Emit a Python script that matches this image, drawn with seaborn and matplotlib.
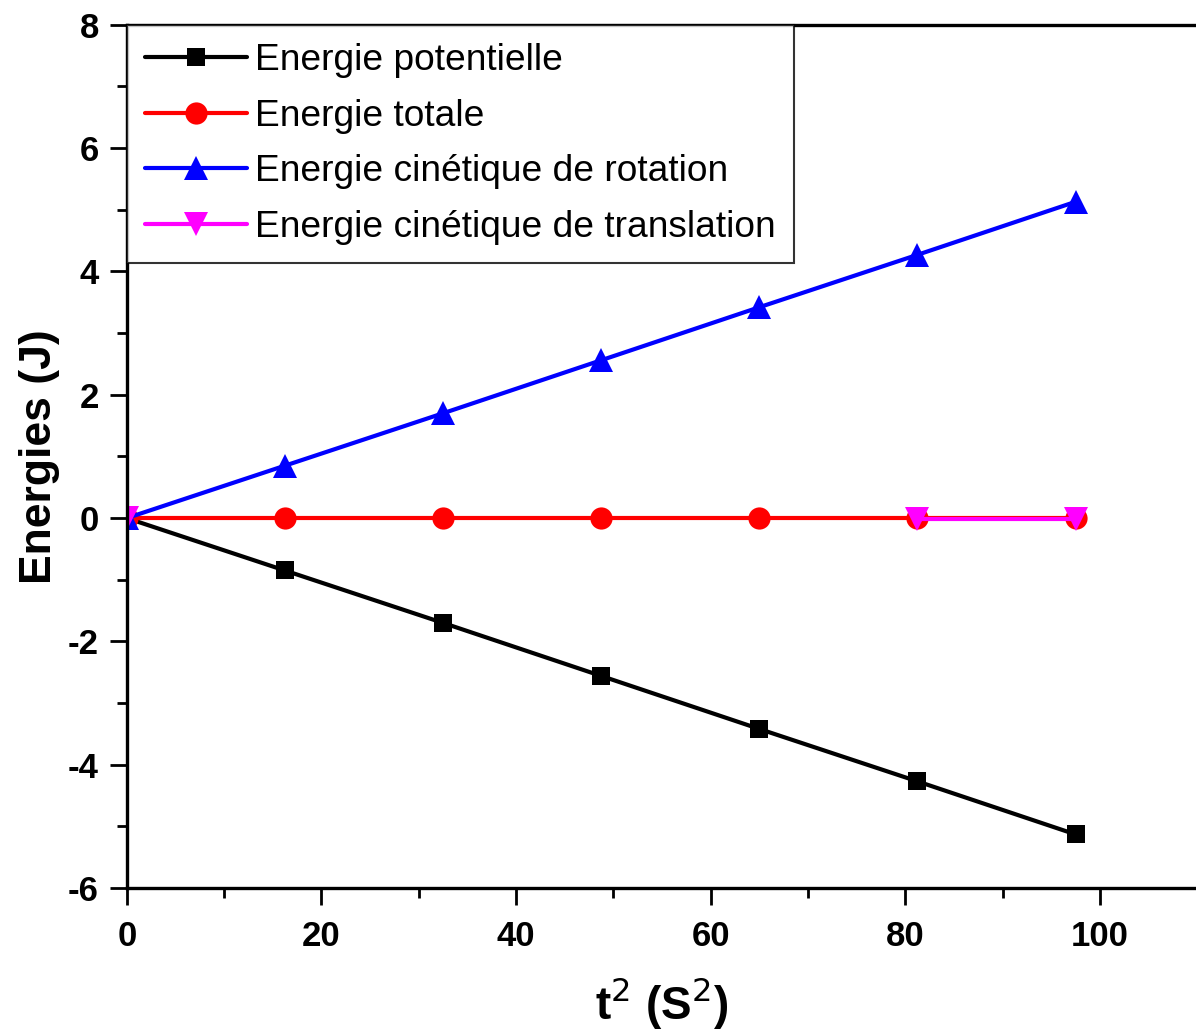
import numpy as np
import pandas as pd
import seaborn as sns
from matplotlib import pyplot as plt
from matplotlib.ticker import MultipleLocator

# t^2 values (s^2)
t2 = [0, 16.25, 32.5, 48.75, 65.0, 81.25, 97.5]

e_pot = [0, -0.85, -1.70, -2.56, -3.42, -4.27, -5.13]
e_tot = [0, 0.0, 0.0, 0.0, 0.0, 0.0, 0.0]
e_rot = [0, 0.85, 1.70, 2.56, 3.42, 4.27, 5.13]
# translation energy only visible at these points
t2_trans = [0, 81.25, 97.5]
e_trans = [0, -0.01, -0.01]
trans_segment = [0, 1, 1]

labels = ['Energie potentielle', 'Energie totale',
          'Energie cinétique de rotation', 'Energie cinétique de translation']

sns.set_style('ticks')
plt.rcParams['font.family'] = ['Liberation Sans', 'DejaVu Sans']
plt.rcParams['axes.unicode_minus'] = False
plt.rcParams['text.color'] = 'black'
plt.rcParams['xtick.color'] = 'black'
plt.rcParams['ytick.color'] = 'black'
plt.rcParams['axes.labelcolor'] = 'black'

fig = plt.figure(figsize=(11.96, 10.35), dpi=100)
ax = fig.add_axes([0.106, 0.142, 0.895, 0.834])

lw = 3
sns.lineplot(x=t2, y=e_pot, ax=ax, color='black', marker='s', markersize=13,
             markeredgewidth=0, linewidth=lw, label=labels[0])
sns.lineplot(x=t2, y=e_tot, ax=ax, color='red', marker='o', markersize=16,
             markeredgewidth=0, linewidth=lw, label=labels[1])
sns.lineplot(x=t2, y=e_rot, ax=ax, color='blue', marker='^', markersize=17,
             markeredgewidth=0, linewidth=lw, label=labels[2])
trans_df = pd.DataFrame({'t2': t2_trans, 'e': e_trans, 'seg': trans_segment})
sns.lineplot(data=trans_df, x='t2', y='e', units='seg', estimator=None, ax=ax,
             color='magenta', marker='v', markersize=17, markeredgewidth=0,
             linewidth=lw, label=labels[3])

ax.set_xlim(0, 110)
ax.set_ylim(-6, 8)
ax.xaxis.set_major_locator(MultipleLocator(20))
ax.xaxis.set_minor_locator(MultipleLocator(10))
ax.yaxis.set_major_locator(MultipleLocator(2))
ax.yaxis.set_minor_locator(MultipleLocator(1))
ax.tick_params(which='major', direction='out', length=12, width=2,
               labelsize=25, pad=8)
ax.tick_params(axis='x', which='major', pad=11)
ax.tick_params(which='minor', direction='out', length=7, width=2)
for lab in ax.get_xticklabels() + ax.get_yticklabels():
    lab.set_fontweight('bold')

for side in ['left', 'bottom', 'top']:
    ax.spines[side].set_linewidth(2.4)
    ax.spines[side].set_color('black')
ax.spines['right'].set_visible(False)

ax.set_xlabel('t$^{2}$ (S$^{2}$)', fontsize=33, fontweight='bold', labelpad=16)
ax.set_ylabel('Energies (J)', fontsize=32, fontweight='bold', labelpad=6)

# one legend entry per series
handles, labs = ax.get_legend_handles_labels()
seen = {}
for h, l in zip(handles, labs):
    seen.setdefault(l, h)
leg = ax.legend(list(seen.values()), list(seen.keys()),
                loc='upper left', bbox_to_anchor=(0, 1), borderaxespad=0,
                fontsize=26.7, frameon=True, fancybox=False, edgecolor='black',
                handlelength=2.75, handletextpad=0.2, labelspacing=0.55,
                borderpad=0.5, numpoints=1)
leg.get_frame().set_linewidth(1.5)

fig.savefig('out.png', dpi=100)
